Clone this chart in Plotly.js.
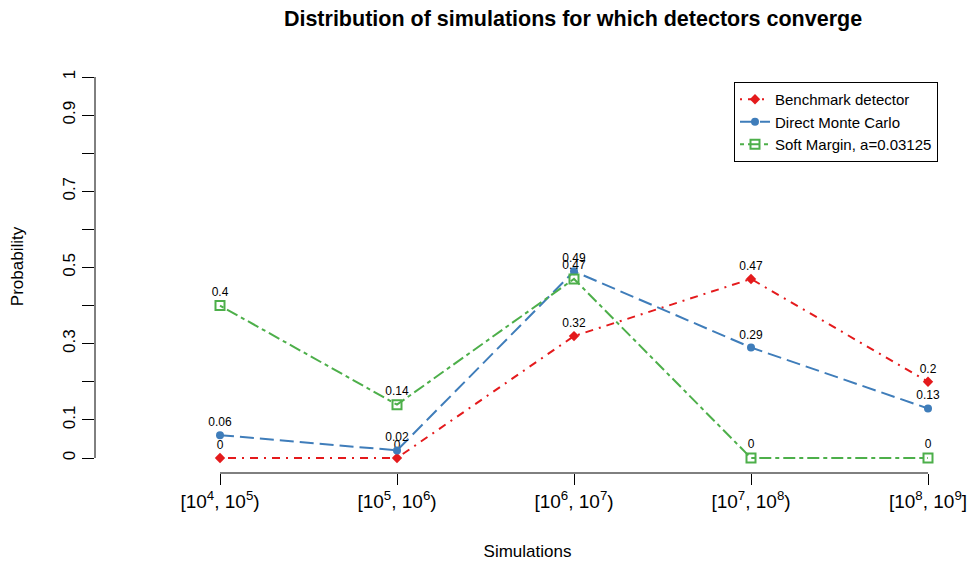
<!DOCTYPE html>
<html>
<head>
<meta charset="utf-8">
<script src="https://cdn.plot.ly/plotly-3.0.1.min.js"></script>
<style>html,body{margin:0;padding:0;background:#fff;}#chart{width:971px;height:565px;}</style>
</head>
<body>
<div id="chart"></div>
<script>
// Simulation-count buckets (positions 1..5 on the x axis)
const bucketPos = [1, 2, 3, 4, 5];
const bucketLabels = [
  "[10<sup>4</sup>, 10<sup>5</sup>)",
  "[10<sup>5</sup>, 10<sup>6</sup>)",
  "[10<sup>6</sup>, 10<sup>7</sup>)",
  "[10<sup>7</sup>, 10<sup>8</sup>)",
  "[10<sup>8</sup>, 10<sup>9</sup>]"
];

// Probability of convergence per detector
const benchmark = [0, 0, 0.32, 0.47, 0.2];
const directMC = [0.06, 0.02, 0.49, 0.29, 0.13];
const softMargin = [0.4, 0.14, 0.47, 0, 0];

const seriesNames = ["Benchmark detector", "Direct Monte Carlo", "Soft Margin, a=0.03125"];

// Y axis ticks: every 0.1, with some labels left blank
const yTickVals = [0, 0.1, 0.2, 0.3, 0.4, 0.5, 0.6, 0.7, 0.8, 0.9, 1];
const yTickText = ["0", "0.1", "", "0.3", "", "0.5", "", "0.7", "", "0.9", "1"];

const FONT = "Liberation Sans, Arial, Helvetica, sans-serif";

function series(y, name, color, dash, symbol, msize, mline) {
  return {
    x: bucketPos, y: y, name: name, type: "scatter",
    mode: "lines+markers+text",
    text: y.map(v => String(v)),
    textposition: "top center",
    textfont: {family: FONT, size: 12, color: "#000"},
    line: {color: color, width: 2, dash: dash},
    marker: {color: color, symbol: symbol, size: msize, line: mline},
    cliponaxis: false,
    hoverinfo: "skip"
  };
}

const traces = [
  series(benchmark, seriesNames[0], "#E41A1C", "2px,6px,8px,6px", "diamond", 8, {width: 0}),
  series(directMC, seriesNames[1], "#3F7DBA", "14px,6px", "circle", 8, {width: 0}),
  series(softMargin, seriesNames[2], "#4DAF4A", "4px,4px,12px,4px", "square-open", 9, {color: "#4DAF4A", width: 2})
];

const layout = {
  width: 971, height: 565,
  margin: {l: 95, r: 11, t: 60, b: 92},
  paper_bgcolor: "#fff", plot_bgcolor: "#fff",
  font: {family: FONT, color: "#000"},
  title: {
    text: "<b>Distribution of simulations for which detectors converge</b>",
    font: {family: FONT, size: 21.5, color: "#000"},
    x: 573 / 971, xref: "container", xanchor: "center",
    y: 1 - 18 / 565, yref: "container", yanchor: "middle"
  },
  xaxis: {
    range: [1 - 125 / 177, 5 + 32 / 177],
    tickvals: bucketPos, ticktext: bucketLabels,
    ticks: "outside", ticklen: 11, tickcolor: "#000", tickwidth: 1,
    showline: false, showgrid: false, zeroline: false,
    tickfont: {family: FONT, size: 19, color: "#000"},
    title: {text: "Simulations", font: {family: FONT, size: 17, color: "#000"}, standoff: 34},
    fixedrange: true
  },
  yaxis: {
    range: [-15 / 381, -15 / 381 + 413 / 381],
    tickvals: yTickVals, ticktext: yTickText,
    ticks: "outside", ticklen: 12, tickcolor: "#000", tickwidth: 1,
    tickangle: -90,
    showline: false, showgrid: false, zeroline: false,
    tickfont: {family: FONT, size: 17, color: "#000"},
    title: {text: "Probability", font: {family: FONT, size: 17, color: "#000"}, standoff: 32},
    fixedrange: true
  },
  shapes: [
    // y axis line spanning 0..1 only
    {type: "line", xref: "paper", yref: "y", x0: 0, x1: 0, y0: 0, y1: 1, line: {color: "#000", width: 1}},
    // x axis line spanning first to last bucket
    {type: "line", xref: "x", yref: "paper", x0: 1, x1: 5, y0: 0, y1: 0, line: {color: "#000", width: 1}}
  ],
  legend: {
    x: (734 - 95) / 865, y: (473 - 82) / 413, xanchor: "left", yanchor: "top",
    bordercolor: "#000", borderwidth: 1, bgcolor: "#fff",
    font: {family: FONT, size: 15, color: "#000"},
    tracegroupgap: 0, itemwidth: 30
  },
  showlegend: true
};

Plotly.newPlot("chart", traces, layout, {displayModeBar: false, staticPlot: true});
</script>
</body>
</html>
